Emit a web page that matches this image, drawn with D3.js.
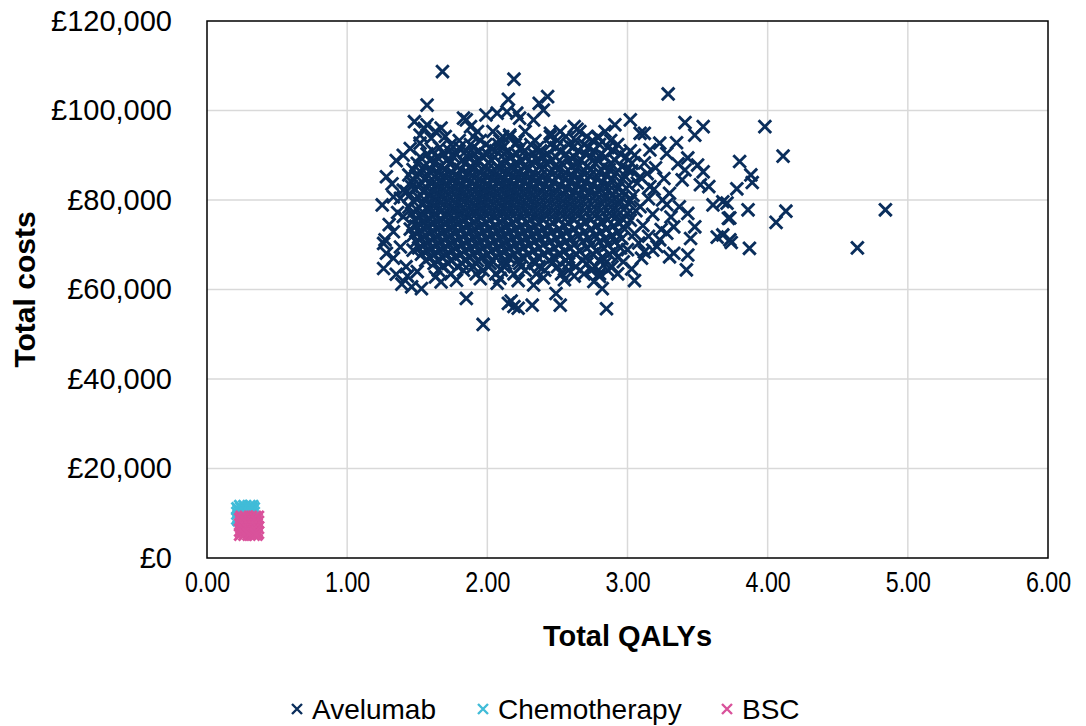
<!DOCTYPE html>
<html><head><meta charset="utf-8">
<script src="https://cdn.jsdelivr.net/npm/d3@7"></script>
<style>body{margin:0;background:#fff;} text{font-family:"Liberation Sans",Arial,sans-serif;fill:#000;}</style>
</head><body><svg id="c" width="1086" height="726"></svg>
<script>
// ---------- data ----------
const xTicks = [0, 1, 2, 3, 4, 5, 6];
const yTicks = [0, 20000, 40000, 60000, 80000, 100000, 120000];
const seriesNames = ["Avelumab", "Chemotherapy", "BSC"];

// Avelumab PSA cloud: rows of [total cost (£k), [total QALYs...]]
const avelumabRows = [
  [95.3, [1.63, 1.93, 2.04, 2.27, 2.52, 2.66, 2.84]],
  [94.2, [1.70, 1.90, 2.11, 2.16, 2.45, 2.56, 2.71, 2.79]],
  [93.3, [1.80, 1.95, 2.09, 2.22, 2.34, 2.50, 2.63, 2.75, 2.88]],
  [92.4, [1.74, 1.88, 1.99, 2.08, 2.20, 2.31, 2.45, 2.58, 2.69, 2.80, 2.93]],
  [91.7, [1.66, 1.80, 1.90, 2.02, 2.11, 2.24, 2.36, 2.49, 2.61, 2.72, 2.86]],
  [91.0, [1.61, 1.73, 1.85, 1.94, 2.06, 2.15, 2.27, 2.38, 2.52, 2.65, 2.76, 2.90, 3.02]],
  [90.3, [1.57, 1.69, 1.78, 1.91, 2.00, 2.12, 2.21, 2.33, 2.43, 2.56, 2.70, 2.81, 2.95]],
  [89.6, [1.52, 1.64, 1.76, 1.86, 1.97, 2.05, 2.17, 2.28, 2.40, 2.49, 2.62, 2.74, 2.84, 2.99]],
  [88.9, [1.59, 1.71, 1.82, 1.93, 2.03, 2.13, 2.24, 2.35, 2.46, 2.58, 2.67, 2.79, 2.91]],
  [88.2, [1.50, 1.62, 1.73, 1.84, 1.92, 2.01, 2.10, 2.20, 2.31, 2.42, 2.53, 2.64, 2.77, 2.88, 3.03]],
  [87.5, [1.55, 1.67, 1.78, 1.88, 1.98, 2.07, 2.16, 2.26, 2.37, 2.48, 2.60, 2.71, 2.83, 2.96]],
  [86.8, [1.47, 1.60, 1.70, 1.81, 1.90, 2.00, 2.09, 2.19, 2.29, 2.39, 2.51, 2.63, 2.74, 2.87, 3.00]],
  [86.1, [1.53, 1.65, 1.75, 1.86, 1.95, 2.04, 2.14, 2.23, 2.33, 2.45, 2.56, 2.68, 2.80, 2.92]],
  [85.4, [1.49, 1.58, 1.69, 1.79, 1.89, 1.99, 2.08, 2.18, 2.27, 2.38, 2.50, 2.61, 2.73, 2.85, 2.98]],
  [84.7, [1.55, 1.64, 1.74, 1.84, 1.94, 2.03, 2.12, 2.22, 2.32, 2.43, 2.55, 2.66, 2.78, 2.89]],
  [84.0, [1.46, 1.59, 1.68, 1.78, 1.88, 1.97, 2.07, 2.16, 2.26, 2.36, 2.47, 2.59, 2.70, 2.82, 2.95]],
  [83.3, [1.52, 1.63, 1.72, 1.82, 1.92, 2.01, 2.11, 2.20, 2.30, 2.41, 2.52, 2.64, 2.75, 2.87, 3.01]],
  [82.6, [1.48, 1.57, 1.67, 1.77, 1.86, 1.96, 2.05, 2.15, 2.24, 2.34, 2.45, 2.57, 2.68, 2.80, 2.93]],
  [81.9, [1.54, 1.62, 1.71, 1.81, 1.91, 2.00, 2.10, 2.19, 2.29, 2.39, 2.50, 2.62, 2.73, 2.86, 2.97]],
  [81.2, [1.45, 1.58, 1.66, 1.76, 1.85, 1.95, 2.04, 2.14, 2.23, 2.33, 2.44, 2.55, 2.66, 2.78, 2.90]],
  [80.5, [1.51, 1.61, 1.70, 1.80, 1.90, 1.99, 2.09, 2.18, 2.28, 2.38, 2.49, 2.60, 2.71, 2.84, 2.96]],
  [79.8, [1.47, 1.56, 1.65, 1.75, 1.84, 1.94, 2.03, 2.13, 2.22, 2.32, 2.43, 2.54, 2.65, 2.77, 2.89, 3.02]],
  [79.1, [1.53, 1.60, 1.69, 1.79, 1.89, 1.98, 2.08, 2.17, 2.27, 2.37, 2.48, 2.59, 2.70, 2.82, 2.94]],
  [78.4, [1.44, 1.57, 1.64, 1.74, 1.83, 1.93, 2.02, 2.12, 2.21, 2.31, 2.42, 2.53, 2.64, 2.76, 2.88, 2.99]],
  [77.7, [1.50, 1.59, 1.68, 1.78, 1.88, 1.97, 2.07, 2.16, 2.26, 2.36, 2.47, 2.58, 2.69, 2.81, 2.93]],
  [77.0, [1.46, 1.55, 1.63, 1.73, 1.82, 1.92, 2.01, 2.11, 2.20, 2.30, 2.41, 2.52, 2.63, 2.75, 2.87, 3.00]],
  [76.3, [1.52, 1.61, 1.70, 1.79, 1.87, 1.96, 2.06, 2.15, 2.25, 2.35, 2.46, 2.57, 2.68, 2.80, 2.92]],
  [75.6, [1.48, 1.57, 1.66, 1.75, 1.84, 1.93, 2.02, 2.12, 2.21, 2.31, 2.40, 2.51, 2.62, 2.74, 2.86, 2.97]],
  [74.9, [1.54, 1.62, 1.71, 1.80, 1.90, 1.99, 2.09, 2.18, 2.28, 2.37, 2.47, 2.58, 2.70, 2.82, 2.94]],
  [74.2, [1.49, 1.58, 1.67, 1.76, 1.86, 1.95, 2.05, 2.14, 2.24, 2.34, 2.44, 2.55, 2.66, 2.78, 2.90]],
  [73.5, [1.45, 1.55, 1.64, 1.73, 1.82, 1.91, 2.01, 2.10, 2.20, 2.30, 2.40, 2.51, 2.62, 2.74, 2.85, 2.98]],
  [72.8, [1.51, 1.60, 1.69, 1.78, 1.88, 1.97, 2.07, 2.16, 2.26, 2.36, 2.46, 2.57, 2.69, 2.81, 2.93]],
  [72.1, [1.47, 1.56, 1.65, 1.74, 1.84, 1.93, 2.03, 2.12, 2.22, 2.32, 2.42, 2.53, 2.65, 2.77, 2.89]],
  [71.4, [1.53, 1.62, 1.71, 1.80, 1.90, 1.99, 2.09, 2.18, 2.28, 2.38, 2.49, 2.60, 2.72, 2.84, 2.96]],
  [70.7, [1.49, 1.58, 1.67, 1.76, 1.86, 1.95, 2.05, 2.14, 2.24, 2.34, 2.45, 2.56, 2.68, 2.80, 2.91]],
  [70.0, [1.55, 1.64, 1.73, 1.82, 1.92, 2.01, 2.11, 2.20, 2.30, 2.40, 2.51, 2.62, 2.74, 2.86]],
  [69.3, [1.51, 1.60, 1.69, 1.78, 1.88, 1.97, 2.07, 2.16, 2.26, 2.37, 2.48, 2.59, 2.71, 2.83, 2.95]],
  [68.6, [1.57, 1.66, 1.75, 1.84, 1.94, 2.03, 2.13, 2.22, 2.33, 2.44, 2.55, 2.66, 2.78, 2.90]],
  [67.9, [1.53, 1.62, 1.71, 1.81, 1.90, 2.00, 2.09, 2.19, 2.29, 2.40, 2.51, 2.63, 2.75, 2.87]],
  [67.2, [1.59, 1.68, 1.77, 1.87, 1.96, 2.06, 2.15, 2.25, 2.36, 2.47, 2.58, 2.70, 2.82, 2.93]],
  [66.5, [1.56, 1.65, 1.74, 1.84, 1.93, 2.03, 2.12, 2.22, 2.33, 2.44, 2.56, 2.68, 2.80]],
  [65.8, [1.62, 1.72, 1.82, 1.92, 2.02, 2.13, 2.23, 2.34, 2.46, 2.58, 2.71, 2.84]],
  [65.1, [1.68, 1.79, 1.90, 2.01, 2.12, 2.24, 2.37, 2.50, 2.63, 2.77, 2.89]],
  [64.3, [1.65, 1.83, 1.97, 2.10, 2.27, 2.41, 2.58, 2.74, 2.86]],
  [63.5, [1.74, 1.92, 2.06, 2.19, 2.35, 2.53, 2.69, 2.80]]
];

// Avelumab scattered points around the cloud: [total QALYs, total cost (£k)]
const avelumabFringe = [
  [1.68,108.7],[2.19,107.0],[3.29,103.7],[2.43,103.1],[2.15,102.5],[2.37,101.6],[1.57,101.2],
  [2.40,100.1],[2.14,99.7],[2.07,99.4],[2.21,99.4],[1.99,99.0],[1.83,98.3],[2.23,98.3],
  [2.33,97.9],[1.85,97.9],[3.02,97.9],[1.48,97.5],[3.41,97.3],[2.91,96.8],[1.57,96.8],
  [1.88,96.4],[1.67,96.1],[1.55,96.0],[2.62,96.4],[2.64,95.8],[3.54,96.4],[3.98,96.4],
  [1.52,94.5],[2.16,94.5],[2.45,94.9],[2.79,93.9],[3.12,94.9],[3.48,94.5],[3.09,94.9],
  [3.35,92.8],[3.23,92.7],[3.16,91.2],[4.11,89.8],[3.43,89.4],[3.80,88.6],[3.50,87.8],
  [3.54,86.3],[3.41,86.7],[3.88,85.6],[3.89,83.9],[3.39,84.5],[3.09,85.2],[3.52,83.4],
  [3.58,83.0],[3.16,83.0],[3.78,82.5],[3.30,81.5],[3.25,80.0],[3.68,79.6],[3.71,79.3],
  [3.61,78.9],[3.37,78.5],[3.09,78.5],[4.84,77.8],[3.86,77.8],[4.13,77.5],[3.43,77.0],
  [3.73,76.0],[3.72,75.9],[4.06,75.0],[3.48,74.0],[3.33,74.0],[3.28,72.6],[3.68,72.2],
  [3.64,71.7],[3.45,71.4],[3.73,71.1],[3.23,71.1],[3.74,70.5],[4.64,69.3],[3.87,69.2],
  [3.18,68.8],[3.12,68.4],[3.33,68.1],[3.43,67.7],[3.30,67.3],[3.42,64.4],[3.05,62.0],
  [2.76,61.8],[2.82,60.2],[2.85,55.7],[2.52,56.5],[2.49,59.1],[2.32,56.5],[2.15,56.9],
  [2.19,56.2],[2.22,55.8],[2.17,57.4],[1.97,52.2],[1.85,58.0],[2.07,61.4],[2.09,62.5],
  [2.33,61.0],[1.67,61.7],[1.39,61.2],[1.46,60.6],[1.53,60.2],
  [1.25,78.9],[1.28,85.2],[1.35,88.8],[1.33,80.7],[1.38,80.4],[1.40,82.2],[1.42,81.9],
  [1.44,85.6],[1.46,83.0],[1.26,70.3],[1.27,71.1],[1.28,68.1],[1.26,64.7],[1.33,67.0],
  [1.33,72.9],[1.40,76.3],[1.42,65.1],[1.47,68.8],[1.30,74.5],[1.36,77.2],[1.32,83.6],
  [1.38,69.5],[1.35,63.4],[1.43,63.0],[1.50,64.0],[1.40,90.0],[1.45,91.5],[1.52,92.7],
  [1.60,93.8],
  [3.05,90.0],[3.12,88.3],[3.20,87.2],[3.03,86.5],[3.14,85.9],[3.26,84.8],[3.07,83.8],
  [3.19,82.4],[3.04,81.0],[3.15,80.3],[3.28,79.0],[3.06,77.6],[3.18,76.8],[3.31,76.2],
  [3.02,75.5],[3.11,74.3],[3.24,73.4],[3.05,72.5],[3.15,71.9],[3.08,70.4],[3.21,69.6],
  [3.00,68.9],[3.10,67.0],[2.97,66.2],[3.03,64.6],[2.93,63.5],[2.80,62.9],[2.62,63.0],
  [2.55,62.2],[2.40,62.6],[2.22,62.0],[1.95,62.4],[1.78,62.1],[1.63,62.8],[3.36,88.1],
  [3.28,90.4]
];

// Chemotherapy and BSC clusters: rows of [total cost (£k), [total QALYs...]]
const chemoRows = [
  [11.5, [0.24, 0.27, 0.30, 0.32]],
  [11.0, [0.22, 0.25, 0.28, 0.31, 0.33]],
  [10.5, [0.23, 0.26, 0.29, 0.32]],
  [10.0, [0.22, 0.25, 0.28, 0.31, 0.33]],
  [9.4, [0.23, 0.26, 0.29, 0.32]],
  [8.9, [0.22, 0.25, 0.28, 0.31]],
  [8.5, [0.23, 0.27, 0.30]]
];
const bscRows = [
  [9.1, [0.25, 0.28, 0.31, 0.34, 0.36]],
  [8.6, [0.24, 0.27, 0.30, 0.33, 0.35]],
  [8.0, [0.25, 0.28, 0.31, 0.34, 0.36]],
  [7.4, [0.24, 0.27, 0.30, 0.33, 0.35]],
  [6.8, [0.25, 0.28, 0.31, 0.34, 0.36]],
  [6.2, [0.24, 0.27, 0.30, 0.33, 0.35]],
  [5.7, [0.25, 0.28, 0.31, 0.34, 0.36]],
  [5.3, [0.24, 0.27, 0.30, 0.33, 0.35]]
];

// ---------- build ----------
function fromRows(rows) {
  const out = [];
  rows.forEach(([c, qs]) => qs.forEach(q => out.push({q: q, c: c * 1000})));
  return out;
}
const avelumab = fromRows(avelumabRows).concat(avelumabFringe.map(([q, c]) => ({q: q, c: c * 1000})));
const chemo = fromRows(chemoRows);
const bsc = fromRows(bscRows);

const colors = {Avelumab: "#0a2e5c", Chemotherapy: "#41bcd8", BSC: "#d9529b"};
const seriesData = {Avelumab: avelumab, Chemotherapy: chemo, BSC: bsc};

const svg = d3.select("#c");
const pL = 207, pR = 1048, pT = 21, pB = 558;
const x = d3.scaleLinear().domain([0, 6]).range([pL, pR]);
const y = d3.scaleLinear().domain([0, 120000]).range([pB, pT]);
const FONT = "Liberation Sans, Arial, sans-serif";

// gridlines
svg.append("g").selectAll("line").data(xTicks.slice(1, -1)).join("line")
  .attr("x1", d => x(d)).attr("x2", d => x(d)).attr("y1", pT).attr("y2", pB)
  .attr("stroke", "#d9d9d9").attr("stroke-width", 1.5);
svg.append("g").selectAll("line").data(yTicks.slice(1, -1)).join("line")
  .attr("x1", pL).attr("x2", pR).attr("y1", d => y(d)).attr("y2", d => y(d))
  .attr("stroke", "#d9d9d9").attr("stroke-width", 1.5);

// axes
const yAxis = svg.append("g").attr("transform", `translate(${pL},0)`)
  .call(d3.axisLeft(y).tickValues(yTicks).tickSize(0).tickPadding(35)
    .tickFormat(d => "£" + d3.format(",")(d)));
yAxis.select(".domain").remove();
yAxis.selectAll("text").attr("font-size", 29).attr("font-family", FONT).attr("fill", "#000");

const xAxis = svg.append("g").attr("transform", `translate(0,${pB})`)
  .call(d3.axisBottom(x).tickValues(xTicks).tickSize(0).tickPadding(13)
    .tickFormat(d3.format(".2f")));
xAxis.select(".domain").remove();
xAxis.selectAll("text").attr("font-size", 29).attr("font-family", FONT).attr("fill", "#000")
  .attr("transform", "scale(0.8,1)");

// markers
const cross = s => `M${-s},${-s}L${s},${s}M${-s},${s}L${s},${-s}`;
const plot = svg.append("g");
seriesNames.forEach(name => {
  plot.append("g").selectAll("path").data(seriesData[name]).join("path")
    .attr("d", cross(6.3))
    .attr("transform", d => `translate(${x(d.q)},${y(d.c)})`)
    .attr("fill", "none").attr("stroke", colors[name]).attr("stroke-width", 2.9);
});

// plot border
svg.append("rect").attr("x", pL).attr("y", pT).attr("width", pR - pL).attr("height", pB - pT)
  .attr("fill", "none").attr("stroke", "#000").attr("stroke-width", 1.5);

// titles
svg.append("text").attr("x", (pL + pR) / 2).attr("y", 646).attr("text-anchor", "middle")
  .attr("font-family", FONT).attr("font-size", 29).attr("font-weight", "bold").text("Total QALYs");
svg.append("text").attr("transform", `translate(35,${(pT + pB) / 2}) rotate(-90)`)
  .attr("text-anchor", "middle").attr("font-family", FONT).attr("font-size", 30)
  .attr("font-weight", "bold").text("Total costs");

// legend
const legendX = [297, 483, 727];
const lg = svg.append("g");
seriesNames.forEach((name, i) => {
  lg.append("path").attr("d", cross(5)).attr("transform", `translate(${legendX[i]},709)`)
    .attr("fill", "none").attr("stroke", colors[name]).attr("stroke-width", 2.4);
  lg.append("text").attr("x", legendX[i] + 15).attr("y", 709).attr("dy", "0.35em")
    .attr("font-family", FONT).attr("font-size", 28).text(name);
});
</script></body></html>
